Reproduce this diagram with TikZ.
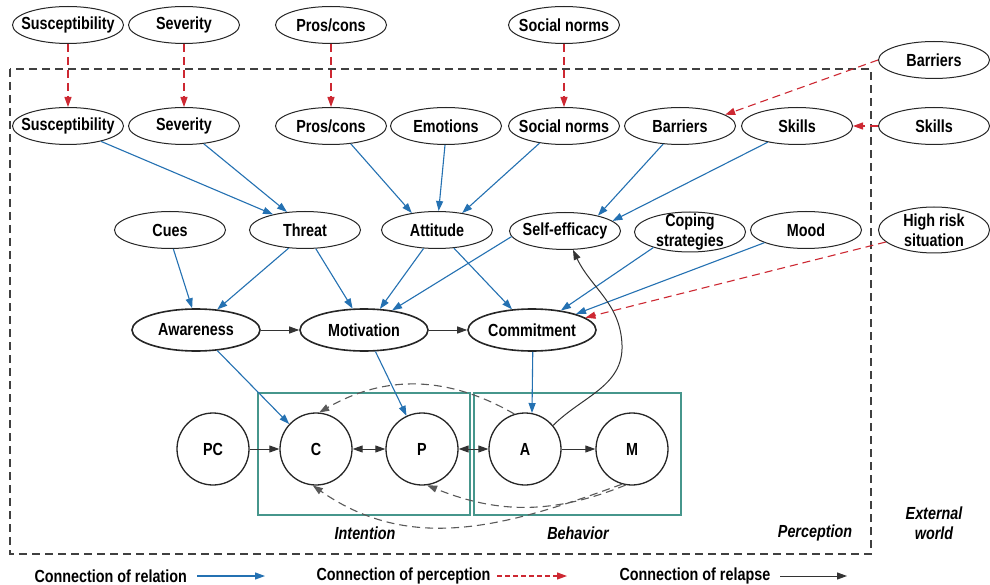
\documentclass[tikz,border=0pt]{standalone}
\usepackage{fontspec}
\setmainfont[FakeStretch=0.82]{Liberation Sans}
\usetikzlibrary{shapes.geometric,arrows.meta}
\definecolor{relblue}{RGB}{36,113,178}
\definecolor{perred}{RGB}{205,40,50}
\definecolor{boxteal}{RGB}{70,150,140}
\begin{document}
\begin{tikzpicture}[x=1pt,y=-1pt,
 ell/.style={ellipse,draw=black!85,line width=1pt,minimum width=111pt,minimum height=37pt,inner xsep=-16pt,inner ysep=-4pt,font=\bfseries\fontsize{17.5}{20.5}\selectfont,align=center},
 bigell/.style={ell,line width=1.6pt,minimum width=128pt,minimum height=42pt},
 circ/.style={circle,draw=black!85,line width=1.3pt,minimum size=72pt,inner sep=0pt,font=\bfseries\fontsize{17.5}{19}\selectfont},
 tip/.style={-{Triangle[length=10pt,width=7pt]}},
 rel/.style={draw=relblue,line width=1.1pt,tip},
 per/.style={draw=perred,line width=1.1pt,dash pattern=on 8pt off 5pt,tip},
 lap/.style={draw=black!80,line width=1pt,tip},
 lapb/.style={draw=black!80,line width=1pt,{Triangle[length=10pt,width=7pt]}-{Triangle[length=10pt,width=7pt]}},
 lapd/.style={draw=black!65,line width=1.1pt,dash pattern=on 8pt off 5pt,tip},
 lbl/.style={font=\bfseries\itshape\fontsize{17.5}{20}\selectfont,align=center},
 leg/.style={font=\bfseries\fontsize{17.5}{19}\selectfont,anchor=west}]
\useasboundingbox[fill=white] (0,0) rectangle (990,585);

% outer dashed perception box
\draw[black!75,line width=1.4pt,dash pattern=on 8pt off 5pt] (10,69) rectangle (871,554);
% teal boxes
\draw[boxteal,line width=1.2pt] (258,393) rectangle (470,515);
\draw[boxteal,line width=1.2pt] (474,393) rectangle (681,515);

% top (external) row
\node[ell] (tsus) at (68,25) {Susceptibility};
\node[ell] (tsev) at (184,25) {Severity};
\node[ell] (tpro) at (331,25) {Pros/cons};
\node[ell] (tsoc) at (564,25) {Social norms};
\node[ell] (tbar) at (934,60) {Barriers};
\node[ell] (tski) at (934,126) {Skills};

% second row
\node[ell] (sus) at (68,126) {Susceptibility};
\node[ell] (sev) at (184,126) {Severity};
\node[ell] (pro) at (331,126) {Pros/cons};
\node[ell] (emo) at (446,126) {Emotions};
\node[ell] (soc) at (564,126) {Social norms};
\node[ell] (bar) at (680,126) {Barriers};
\node[ell] (ski) at (797,126) {Skills};

% third row
\node[ell] (cues) at (170,230) {Cues};
\node[ell] (threat) at (305,230) {Threat};
\node[ell] (att) at (437,230) {Attitude};
\node[ell] (self) at (565,231) {Self-efficacy};
\node[ell,minimum height=40pt,inner ysep=-10pt] (cope) at (690,232) {Coping\\strategies};
\node[ell] (mood) at (806,230) {Mood};
\node[ell,minimum height=46pt,inner ysep=-10pt] (hrs) at (934,230) {High risk\\situation};

% fourth row
\node[bigell] (aware) at (196,330) {Awareness};
\node[bigell] (motiv) at (364,330) {Motivation};
\node[bigell] (commit) at (532,330) {Commitment};

% stage circles
\node[circ] (PC) at (213,449) {PC};
\node[circ] (C) at (316,449) {C};
\node[circ] (P) at (422,449) {P};
\node[circ] (A) at (525,449) {A};
\node[circ] (M) at (632,449) {M};

% labels
\node[lbl] (lint) at (365,533) {Intention};
\node[lbl] (lbeh) at (578,533) {Behavior};
\node[lbl] (lper) at (815,533) {Perception};
\node[lbl] (lext) at (934,523) {External\\world};

% perception (red dashed)
\draw[per] (tsus) -- (sus);
\draw[per] (tsev) -- (sev);
\draw[per] (tpro) -- (pro);
\draw[per] (tsoc) -- (soc);
\draw[per] (tbar.180) -- (bar.14);
\draw[per] (tski) -- (ski);
\draw[per] (hrs.-166) -- (commit.13);

% relation (blue)
\draw[rel] (sus.-25) -- (threat.154);
\draw[rel] (sev.-42) -- (threat.135);
\draw[rel] (pro.-42) -- (att.146);
\draw[rel] (emo.-93) -- (att.85);
\draw[rel] (soc.-145) -- (att.34);
\draw[rel] (bar.-133) -- (self.25);
\draw[rel] (ski.-151) -- (self.12);
\draw[rel] (cues.-80) -- (aware.100);
\draw[rel] (threat.-132) -- (aware.44);
\draw[rel] (threat.-60) -- (motiv.118);
\draw[rel] (att.-126) -- (motiv.53);
\draw[rel] (self.-174) -- (motiv.35);
\draw[rel] (att.-47) -- (commit.134);
\draw[rel] (cope.-157) -- (commit.34);
\draw[rel] (mood.-163) -- (commit.20);
\draw[rel] (aware.-44) -- (C.137);
\draw[rel] (motiv.-62) -- (P.115);
\draw[rel] (commit.-88) -- (A.79);

% relapse / stage flow (black)
\draw[lap] (aware) -- (motiv);
\draw[lap] (motiv) -- (commit);
\draw[lap] (PC) -- (C);
\draw[lapb] (C) -- (P);
\draw[lapb] (P) -- (A);
\draw[lap] (A) -- (M);
\coordinate (bend) at (622,345);
\draw[lap] (A.40) to[out=45,in=-88] (bend) to[out=92,in=-65] (self.-67);

% dashed relapse arcs
\draw[lapd] (A.107) to[out=150,in=30] (C.85);
\draw[lapd] (M.-100) to[out=-158,in=-22] (P.-82);
\draw[lapd] (M.-106) to[out=-160,in=-35] (C.-95);

% legend
\node[leg] (l1) at (31,576) {Connection of relation};
\coordinate (l1a) at (197,576);
\coordinate (l1b) at (265,576);
\draw[rel] (l1a) -- (l1b);
\node[leg] (l2) at (313,576) {Connection of perception};
\coordinate (l2a) at (497,576);
\coordinate (l2b) at (567,576);
\draw[per,dash pattern=on 5pt off 3pt] (l2a) -- (l2b);
\node[leg] (l3) at (616,576) {Connection of relapse};
\coordinate (l3a) at (780,576);
\coordinate (l3b) at (847,576);
\draw[lap] (l3a) -- (l3b);
\end{tikzpicture}
\end{document}
